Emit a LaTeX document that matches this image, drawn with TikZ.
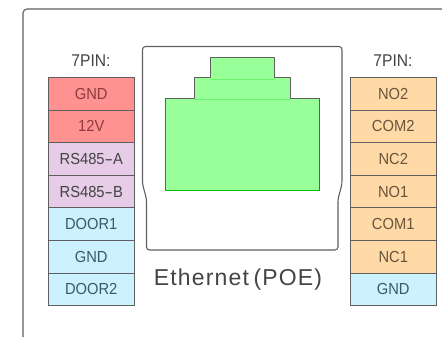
\documentclass[tikz,border=0pt]{standalone}
\usepackage{fontspec}
\setmainfont{Liberation Sans}
\newfontfamily\pinfont[FakeStretch=0.92]{Liberation Sans}
\newfontfamily\capfont[LetterSpace=5]{Liberation Sans}
\newcommand{\widehyphen}{\scalebox{1.7}[1]{-}}
\definecolor{edge}{HTML}{5F5F5F}
\definecolor{ink}{HTML}{444444}
\definecolor{jackline}{HTML}{6EF56E}
\tikzset{
  pinbox/.style={draw=edge,line width=1pt,minimum width=85.5pt,minimum height=32.6pt,inner sep=0pt,anchor=north west,font=\pinfont\fontsize{16}{16}\selectfont},
  redpin/.style={pinbox,fill={rgb,255:red,255;green,145;blue,145},text={rgb,255:red,140;green,60;blue,60}},
  purplepin/.style={pinbox,fill={rgb,255:red,230;green,204;blue,230},text=ink},
  bluepin/.style={pinbox,fill={rgb,255:red,204;green,242;blue,255},text={rgb,255:red,60;green,90;blue,100}},
  orangepin/.style={pinbox,fill={rgb,255:red,255;green,217;blue,166},text={rgb,255:red,105;green,85;blue,60}},
  headlabel/.style={font=\pinfont\fontsize{17}{17}\selectfont,text=ink,inner sep=0pt},
  jack/.style={fill={rgb,255:red,153;green,255;blue,153},draw=none},
  outline/.style={draw=edge,line width=1.1pt,line join=round}
}
\begin{document}
\begin{tikzpicture}[x=1pt,y=-1pt]
\useasboundingbox (0,0) rectangle (442,338);
% outer frame
\draw[outline,rounded corners=4pt] (23,337) -- (23,9) -- (442,9);
% module outline
\draw[outline,rounded corners=3pt] (142.5,184) -- (142.5,46.5) -- (342,46.5) -- (342,184) -- (338,199) -- (338,250) -- (146.5,250) -- (146.5,199) -- cycle;
% jack
\fill[jack] (165,98) -- (194,98) -- (194,77) -- (210,77) -- (210,57) -- (274.5,57) -- (274.5,77) -- (290,77) -- (290,98) -- (319.5,98) -- (319.5,190) -- (165,190) -- cycle;
\draw[outline,line width=.9pt] (165,190) -- (165,98) -- (194,98) -- (194,77) -- (210,77) -- (210,57) -- (274.5,57) -- (274.5,77) -- (290,77) -- (290,98) -- (319.5,98) -- (319.5,190);
\draw[green!75!black,line width=.8pt] (165,190) -- (319.5,190);
\draw[jackline,line width=.5pt] (210,79) -- (274.5,79) (194,99.5) -- (290,99.5);
% headings
\node[headlabel] (lefthead) at (91,61) {7PIN:};
\node[headlabel] (righthead) at (393,61) {7PIN:};
% left column
\node[redpin] (l1) at (48,77) {GND};
\node[redpin] (l2) at (48,109.6) {12V};
\node[purplepin] (l3) at (48,142.2) {RS485\widehyphen A};
\node[purplepin] (l4) at (48,174.8) {RS485\widehyphen B};
\node[bluepin] (l5) at (48,207.4) {DOOR1};
\node[bluepin] (l6) at (48,240) {GND};
\node[bluepin] (l7) at (48,272.6) {DOOR2};
% right column
\node[orangepin] (r1) at (350,77) {NO2};
\node[orangepin] (r2) at (350,109.6) {COM2};
\node[orangepin] (r3) at (350,142.2) {NC2};
\node[orangepin] (r4) at (350,174.8) {NO1};
\node[orangepin] (r5) at (350,207.4) {COM1};
\node[orangepin] (r6) at (350,240) {NC1};
\node[bluepin] (r7) at (350,272.6) {GND};
% caption
\node[font=\capfont\fontsize{23}{23}\selectfont,text=ink,inner sep=0pt] (caption) at (238,280) {Ethernet\hspace{-3pt} (POE)};
\end{tikzpicture}
\end{document}
